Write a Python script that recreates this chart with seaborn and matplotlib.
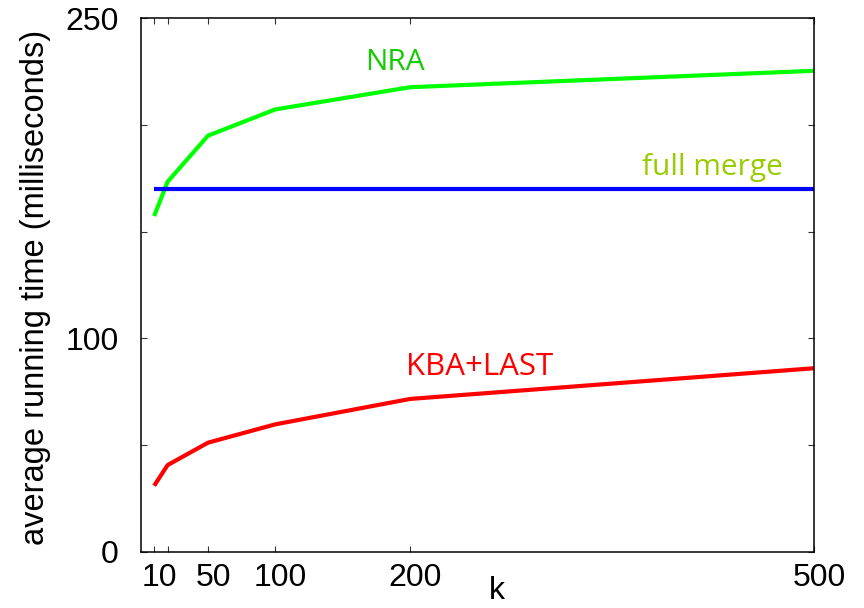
import matplotlib
matplotlib.use("Agg")
import matplotlib.pyplot as plt
import matplotlib.transforms as mtransforms
import seaborn as sns
import pandas as pd

# ---- data ----
k_values = [10, 20, 50, 100, 200, 500]
nra_ms = [157.3, 173.4, 195.0, 207.3, 217.7, 225.4]
full_merge_ms = [170.0, 170.0, 170.0, 170.0, 170.0, 170.0]
kba_last_ms = [30.9, 40.6, 51.1, 59.7, 71.6, 86.0]

x_ticks = [10, 20, 50, 100, 200, 500]
x_tick_labels = ["10", "", "50", "100", "200", "500"]
y_ticks = [0, 50, 100, 150, 200, 250]
y_tick_labels = ["0", "", "100", "", "", "250"]

series_names = ["NRA", "full merge", "KBA+LAST"]

sns.set_style("ticks")
plt.rcParams["font.family"] = ["Liberation Sans", "DejaVu Sans"]
plt.rcParams["text.color"] = "black"
plt.rcParams["axes.labelcolor"] = "black"
plt.rcParams["xtick.color"] = "black"
plt.rcParams["ytick.color"] = "black"

fig = plt.figure(figsize=(8.64, 6.08), dpi=100)
ax = fig.add_axes([0.1628, 0.0926, 0.9425 - 0.1628, 0.9699 - 0.0926])

df = pd.DataFrame({
    "k": k_values * 3,
    "time": nra_ms + full_merge_ms + kba_last_ms,
    "series": [series_names[0]] * 6 + [series_names[1]] * 6 + [series_names[2]] * 6,
})

palette = {"NRA": "#00ff00", "full merge": "#0000ff", "KBA+LAST": "#ff0000"}
sns.lineplot(data=df, x="k", y="time", hue="series", palette=palette,
             linewidth=3.0, legend=False, ax=ax, estimator=None, sort=False)
for ln in ax.get_lines():
    ln.set_solid_capstyle("butt")

ax.set_xlim(0, 500)
ax.set_ylim(0, 250)
ax.set_xticks(x_ticks)
ax.set_xticklabels(x_tick_labels)
ax.set_yticks(y_ticks)
ax.set_yticklabels(y_tick_labels)

ax.tick_params(axis="both", which="major", direction="in", length=4.5, width=0.8,
               labelsize=23, top=True, right=True, color="#333333",
               labelcolor="black")
ax.tick_params(axis="x", pad=8)
ax.tick_params(axis="y", pad=16)
for sp in ax.spines.values():
    sp.set_visible(True)
    sp.set_linewidth(1.1)
    sp.set_color("black")

# shift x tick labels slightly right (as in reference)
offset = mtransforms.ScaledTranslation(0.05, 0, fig.dpi_scale_trans)
for lab in ax.get_xticklabels():
    lab.set_transform(lab.get_transform() + offset)

ax.set_xlabel("k", fontsize=23, color="black")
ax.xaxis.set_label_coords(0.529, -0.046)
ax.set_ylabel("average running time (milliseconds)", fontsize=23.5, color="black")
ax.yaxis.set_label_coords(-0.1554, 0.495)
ax.yaxis.label.set_va("center")

ann_font = ["Open Sans", "DejaVu Sans"]
ax.text(166.5, 225.8, "NRA", color="#11cc00", fontsize=21.5, family=ann_font,
        ha="left", va="baseline")
ax.text(371.9, 176.6, "full merge", color="#99cc00", fontsize=21.5, family=ann_font,
        ha="left", va="baseline")
ax.text(197.3, 82.8, "KBA+LAST", color="#ff0000", fontsize=22.5, family=ann_font,
        ha="left", va="baseline")

fig.savefig("out.png", dpi=100)
